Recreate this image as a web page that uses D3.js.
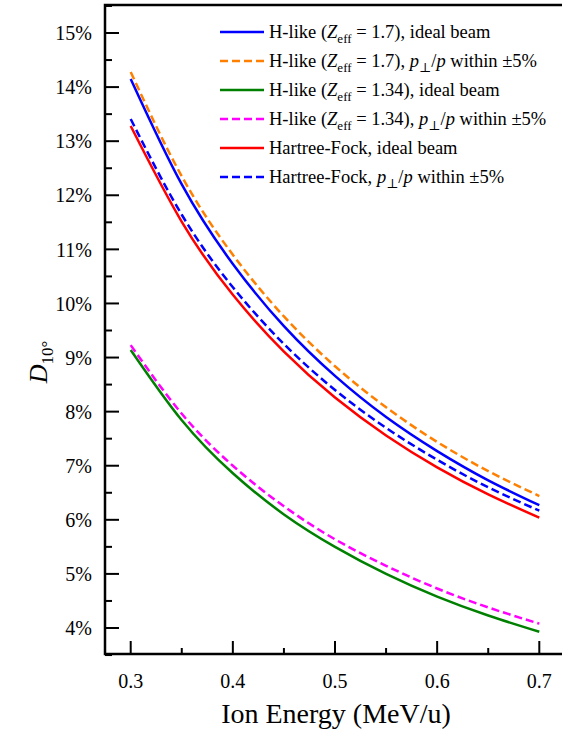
<!DOCTYPE html>
<html>
<head>
<meta charset="utf-8">
<script src="https://cdn.jsdelivr.net/npm/d3@7"></script>
<style>
  body { margin: 0; background: #fff; }
</style>
</head>
<body>
<script>
(function(){
    var width = 562,
        height = 731;

    var serif = "'Liberation Serif', 'DejaVu Serif', 'Times New Roman', Times, serif";

    // ion energy (MeV/u)
    var energy = [0.30, 0.35, 0.40, 0.45, 0.50, 0.55, 0.60, 0.65, 0.70];

    // D10 values in %
    var hLike17Ideal   = [14.15, 12.20, 10.73, 9.58, 8.66, 7.90, 7.27, 6.73, 6.27];
    var hLike17Spread  = [14.28, 12.35, 10.90, 9.76, 8.84, 8.08, 7.44, 6.90, 6.44];
    var hLike134Ideal  = [9.14, 7.84, 6.86, 6.10, 5.50, 5.00, 4.58, 4.23, 3.93];
    var hLike134Spread = [9.23, 7.96, 7.00, 6.25, 5.64, 5.15, 4.73, 4.38, 4.08];
    var hfIdeal        = [13.28, 11.51, 10.16, 9.11, 8.26, 7.56, 6.97, 6.47, 6.04];
    var hfSpread       = [13.41, 11.64, 10.30, 9.25, 8.40, 7.70, 7.11, 6.60, 6.17];

    var xTicks = [0.3, 0.4, 0.5, 0.6, 0.7];
    var yTicks = [4, 5, 6, 7, 8, 9, 10, 11, 12, 13, 14, 15];

    var series = [
        {values: hLike17Ideal,   color: "#0000ff", dash: null,
         label: [["H-like ("], ["Z", "i"], ["eff", "sub"], [" = 1.7), ideal beam"]]},
        {values: hLike17Spread,  color: "#ff8000", dash: "8,4",
         label: [["H-like ("], ["Z", "i"], ["eff", "sub"], [" = 1.7), "], ["p", "i"], ["\u22a5", "sub"], ["/"], ["p", "i"], [" within \u00b15%"]]},
        {values: hLike134Ideal,  color: "#008000", dash: null,
         label: [["H-like ("], ["Z", "i"], ["eff", "sub"], [" = 1.34), ideal beam"]]},
        {values: hLike134Spread, color: "#ff00ff", dash: "8,4",
         label: [["H-like ("], ["Z", "i"], ["eff", "sub"], [" = 1.34), "], ["p", "i"], ["\u22a5", "sub"], ["/"], ["p", "i"], [" within \u00b15%"]]},
        {values: hfIdeal,        color: "#ff0000", dash: null,
         label: [["Hartree-Fock, ideal beam"]]},
        {values: hfSpread,       color: "#0000ff", dash: "8,4",
         label: [["Hartree-Fock, "], ["p", "i"], ["\u22a5", "sub"], ["/"], ["p", "i"], [" within \u00b15%"]]}
    ];

    var left = 105, top = 5, bottom = 654, right = 562;

    var svg = d3.select("body").append("svg")
                .attr("width", width)
                .attr("height", height)
                .attr("font-family", serif);

    var x = d3.scaleLinear().domain([0.3, 0.7]).range([130.7, 539.3]);
    var y = d3.scaleLinear().domain([4, 15]).range([628, 33]);

    // curves
    var line = d3.line()
                 .x(function(d){ return x(d[0]); })
                 .y(function(d){ return y(d[1]); })
                 .curve(d3.curveNatural);

    series.forEach(function(s){
        svg.append("path")
           .datum(energy.map(function(e, i){ return [e, s.values[i]]; }))
           .attr("d", line)
           .attr("fill", "none")
           .attr("stroke", s.color)
           .attr("stroke-width", 2.5)
           .attr("stroke-dasharray", s.dash);
    });

    // frame
    svg.append("path")
       .attr("d", "M" + right + "," + top + "H" + left + "V" + bottom + "H" + right)
       .attr("fill", "none")
       .attr("stroke", "#000")
       .attr("stroke-width", 2.5);

    // y ticks (inward)
    var yMinor = d3.range(3.5, 15.6, 0.5);
    svg.append("g").selectAll("line")
       .data(yMinor)
       .enter().append("line")
       .attr("x1", left)
       .attr("x2", function(d){ return left + (Math.abs(d - Math.round(d)) < 0.01 ? 14 : 7); })
       .attr("y1", function(d){ return y(d); })
       .attr("y2", function(d){ return y(d); })
       .attr("stroke", "#000")
       .attr("stroke-width", 2);

    svg.append("g").selectAll("text")
       .data(yTicks)
       .enter().append("text")
       .attr("x", left - 13)
       .attr("y", function(d){ return y(d); })
       .attr("dy", "0.36em")
       .attr("text-anchor", "end")
       .attr("font-size", 20)
       .text(function(d){ return d + "%"; });

    // x ticks (inward)
    var xMinor = d3.range(0.3, 0.701, 0.05);
    svg.append("g").selectAll("line")
       .data(xMinor)
       .enter().append("line")
       .attr("x1", function(d){ return x(d); })
       .attr("x2", function(d){ return x(d); })
       .attr("y1", bottom)
       .attr("y2", function(d, i){ return bottom - (i % 2 === 0 ? 13 : 6); })
       .attr("stroke", "#000")
       .attr("stroke-width", 2);

    svg.append("g").selectAll("text")
       .data(xTicks)
       .enter().append("text")
       .attr("x", function(d){ return x(d); })
       .attr("y", 681)
       .attr("dy", "0.36em")
       .attr("text-anchor", "middle")
       .attr("font-size", 20)
       .text(function(d){ return d3.format(".1f")(d); });

    // axis titles
    svg.append("text")
       .attr("x", 336)
       .attr("y", 723)
       .attr("text-anchor", "middle")
       .attr("font-size", 28)
       .text("Ion Energy (MeV/u)");

    var yt = svg.append("text")
       .attr("transform", "translate(47,362) rotate(-90)")
       .attr("text-anchor", "middle")
       .attr("font-size", 26);
    yt.append("tspan").attr("font-style", "italic").text("D");
    yt.append("tspan").attr("dy", 6).attr("font-size", 17).text("10\u00b0");

    // legend
    var legend = svg.append("g");
    series.forEach(function(s, i){
        var ly = 32 + i * 29;
        legend.append("line")
              .attr("x1", 220).attr("x2", 264)
              .attr("y1", ly).attr("y2", ly)
              .attr("stroke", s.color)
              .attr("stroke-width", 2.5)
              .attr("stroke-dasharray", s.dash);
        var t = legend.append("text")
              .attr("x", 269)
              .attr("y", ly + 6)
              .attr("font-size", 18.5);
        var shifted = false;
        s.label.forEach(function(p){
            var ts = t.append("tspan").text(p[0]);
            if (p[1] === "sub") {
                ts.attr("dy", 5).attr("font-size", 13);
                shifted = true;
            } else {
                if (shifted) { ts.attr("dy", -5); shifted = false; }
                if (p[1] === "i") ts.attr("font-style", "italic");
            }
        });
    });
})();
</script>
</body>
</html>
